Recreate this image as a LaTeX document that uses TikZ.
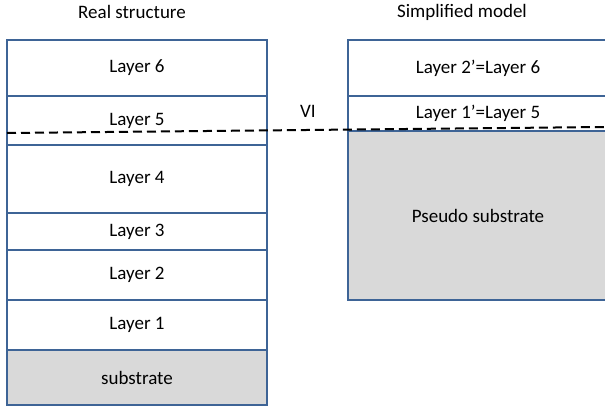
\documentclass[tikz,border=0pt]{standalone}
\usepackage{fontspec}
\setmainfont{Carlito}
\usetikzlibrary{positioning}
\definecolor{edgeblue}{HTML}{3E6496}
\definecolor{subgray}{HTML}{D9D9D9}

\begin{document}
\begin{tikzpicture}[x=1pt, y=-1pt, font=\fontsize{19}{23}\selectfont,
  layer/.style={draw=edgeblue, line width=2.5pt, minimum width=260pt, inner sep=0pt, outer sep=0pt},
  subs/.style={layer, fill=subgray}]
\clip (0, 0) rectangle (605, 407);
\node (real) at (132, 12) {Real structure};
\node (simple) at (462, 12) {Simplified model};
\node [layer, anchor=north, minimum height=56pt] (l6) at (137, 40) {Layer 6};
\node [layer, minimum height=49pt, below=0pt of l6] (l5) {Layer 5};
\node [layer, minimum height=68pt, below=0pt of l5] (l4) {Layer 4};
\node [layer, minimum height=37pt, below=0pt of l4] (l3) {Layer 3};
\node [layer, minimum height=50pt, below=0pt of l3] (l2) {Layer 2};
\node [layer, minimum height=50pt, below=0pt of l2] (l1) {Layer 1};
\node [subs, minimum height=55pt, below=0pt of l1] (sub) {substrate};
\node [layer, anchor=north, minimum height=56pt] (m2) at (478, 40) {Layer 2'=Layer 6};
\node [layer, minimum height=35pt, below=0pt of m2] (m1) {Layer 1'=Layer 5};
\node [subs, minimum height=169pt, below=0pt of m1] (psub) {Pseudo substrate};
\node (vi) at (308, 111) {VI};
\coordinate (cut l) at (7, 133);
\coordinate (cut r) at (605, 127);
\draw [line width=2pt, dash pattern=on 9pt off 5pt] (cut l) -- (cut r);
\end{tikzpicture}
\end{document}
